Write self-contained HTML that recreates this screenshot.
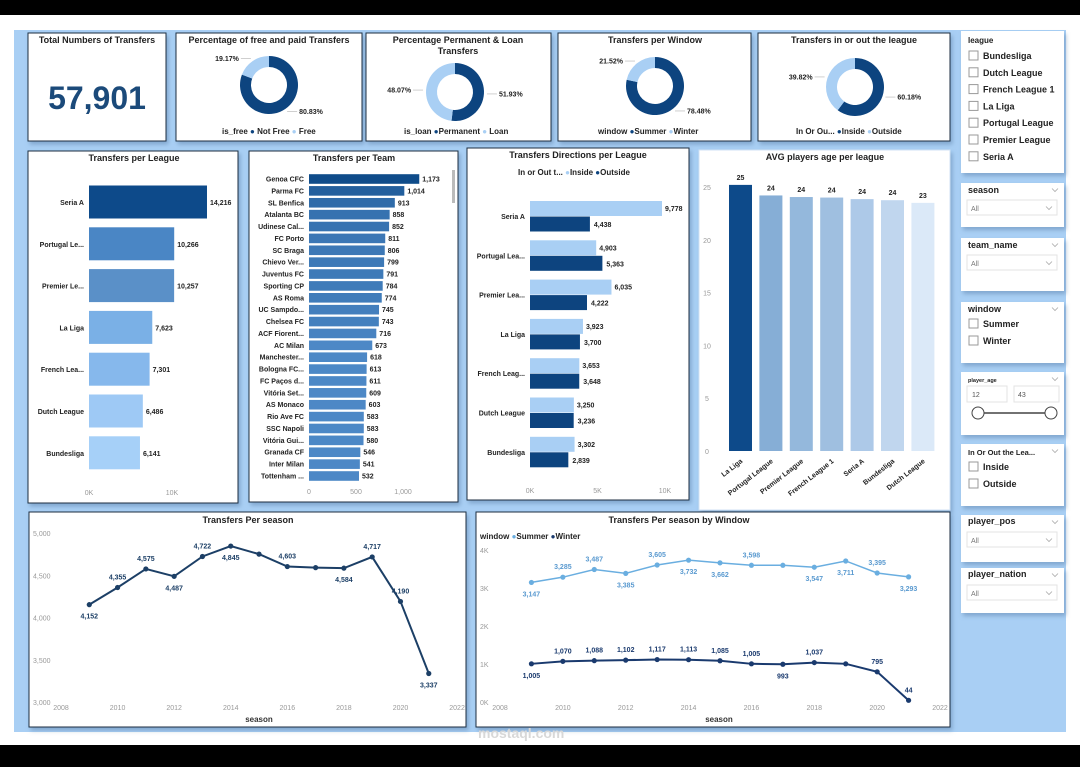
<!DOCTYPE html>
<html><head><meta charset="utf-8">
<style>
html,body{margin:0;padding:0;background:#fff;}
svg{display:block;font-family:"Liberation Sans",sans-serif;}
.t{font-weight:bold;font-size:9px;fill:#222;text-anchor:middle;}
.lb{font-size:7px;font-weight:bold;fill:#222;}
.ax{font-size:7px;fill:#999;}
.sl{font-size:9px;font-weight:bold;fill:#222;}
</style></head>
<body>
<svg id="dash" width="1080" height="767" viewBox="0 0 1080 767">
<defs><filter id="sh" x="-5%" y="-5%" width="115%" height="120%"><feDropShadow dx="2" dy="3" stdDeviation="2" flood-color="#5a7fa8" flood-opacity="0.5"/></filter></defs>
<rect x="0" y="0" width="1080" height="15" fill="#000"/>
<rect x="14" y="30" width="1052" height="702" fill="#a9cff4"/>
<rect x="0" y="745" width="1080" height="22" fill="#000"/>

<g filter="url(#sh)">
<rect x="28" y="33" width="138" height="108" fill="#fff" stroke="#1e2d40"/>
<rect x="176" y="33" width="186" height="108" fill="#fff" stroke="#1e2d40"/>
<rect x="366" y="33" width="185" height="108" fill="#fff" stroke="#1e2d40"/>
<rect x="558" y="33" width="193" height="108" fill="#fff" stroke="#1e2d40"/>
<rect x="758" y="33" width="192" height="108" fill="#fff" stroke="#1e2d40"/>
<rect x="28" y="151" width="210" height="352" fill="#fff" stroke="#1e2d40"/>
<rect x="249" y="151" width="209" height="351" fill="#fff" stroke="#1e2d40"/>
<rect x="467" y="148" width="222" height="352" fill="#fff" stroke="#1e2d40"/>
<rect x="699" y="150" width="251" height="360" fill="#fff" stroke="#d0e2f4"/>
<rect x="29" y="512" width="437" height="215" fill="#fff" stroke="#1e2d40"/>
<rect x="476" y="512" width="474" height="215" fill="#fff" stroke="#1e2d40"/>
<rect x="961" y="31" width="103" height="142" fill="#fff"/>
<rect x="961" y="183" width="103" height="44" fill="#fff"/>
<rect x="961" y="238" width="103" height="53" fill="#fff"/>
<rect x="961" y="302" width="103" height="61" fill="#fff"/>
<rect x="961" y="372" width="103" height="63" fill="#fff"/>
<rect x="961" y="444" width="103" height="62" fill="#fff"/>
<rect x="961" y="515" width="103" height="47" fill="#fff"/>
<rect x="961" y="568" width="103" height="45" fill="#fff"/>
</g>

<text class="t" x="97" y="43">Total Numbers of Transfers</text>
<text x="97" y="109" text-anchor="middle" font-size="32" font-weight="bold" fill="#1b4a7a">57,901</text>
<text class="t" x="269" y="43">Percentage of free and paid Transfers</text>
<text class="t" x="458" y="43">Percentage Permanent &amp; Loan</text>
<text class="t" x="458" y="54">Transfers</text>
<text class="t" x="655" y="43">Transfers per Window</text>
<text class="t" x="854" y="43">Transfers in or out the league</text>
<text class="t" x="134" y="161">Transfers per League</text>
<text class="t" x="354" y="161">Transfers per Team</text>
<text class="t" x="578" y="158">Transfers Directions per League</text>
<text class="t" x="825" y="160">AVG players age per league</text>
<text class="t" x="248" y="523">Transfers Per season</text>
<text class="t" x="679" y="523">Transfers Per season by Window</text>

<g id="legends" font-size="8" font-weight="bold" fill="#222">
<text x="222" y="134">is_free <tspan fill="#0d447f">●</tspan> Not Free <tspan fill="#a9cff4">●</tspan> Free</text>
<text x="404" y="134">is_loan <tspan fill="#0d447f">●</tspan>Permanent <tspan fill="#a9cff4">●</tspan> Loan</text>
<text x="598" y="134">window <tspan fill="#0d447f">●</tspan>Summer <tspan fill="#a9cff4">●</tspan>Winter</text>
<text x="796" y="134">In Or Ou... <tspan fill="#0d447f">●</tspan>Inside <tspan fill="#a9cff4">●</tspan>Outside</text>
<text x="518" y="175">In or Out t... <tspan fill="#a9cff4">●</tspan>Inside <tspan fill="#0d447f">●</tspan>Outside</text>
<text x="480" y="539">window <tspan fill="#6aaee0">●</tspan>Summer <tspan fill="#1a3a6e">●</tspan>Winter</text>
</g>
<g id="donuts"></g>
<g id="leagueChart"></g>
<g id="teamChart"></g>
<rect x="452" y="170" width="3" height="33" fill="#bbb"/>
<g id="dirChart"></g>
<g id="ageChart"></g>
<g id="seasonChart"></g>
<g id="windowChart"></g>

<g id="slicers">
<text x="968" y="43" font-size="8" font-weight="bold" fill="#222">league</text>
<text class="sl" x="968" y="193" font-size="8">season</text>
<rect x="967" y="200" width="90" height="15" fill="#fff" stroke="#e3e3e3"/>
<text x="971" y="211" font-size="7" fill="#777">All</text>
<text class="sl" x="968" y="248" font-size="8">team_name</text>
<rect x="967" y="255" width="90" height="15" fill="#fff" stroke="#e3e3e3"/>
<text x="971" y="266" font-size="7" fill="#777">All</text>
<text class="sl" x="968" y="312" font-size="8">window</text>
<text x="968" y="382" font-size="5.5" font-weight="bold" fill="#222">player_age</text>
<rect x="967" y="386" width="40" height="16" fill="#fff" stroke="#e3e3e3"/>
<rect x="1014" y="386" width="45" height="16" fill="#fff" stroke="#e3e3e3"/>
<text x="972" y="397" font-size="7" fill="#555">12</text>
<text x="1018" y="397" font-size="7" fill="#555">43</text>
<line x1="978" y1="413" x2="1051" y2="413" stroke="#444" stroke-width="1.5"/>
<circle cx="978" cy="413" r="6" fill="#fff" stroke="#444"/>
<circle cx="1051" cy="413" r="6" fill="#fff" stroke="#444"/>
<text x="968" y="455" font-size="7.5" font-weight="bold" fill="#222">In Or Out the Lea...</text>
<text class="sl" x="968" y="524" font-size="8">player_pos</text>
<rect x="967" y="532" width="90" height="15" fill="#fff" stroke="#e3e3e3"/>
<text x="971" y="543" font-size="7" fill="#777">All</text>
<text class="sl" x="968" y="577" font-size="8">player_nation</text>
<rect x="967" y="585" width="90" height="15" fill="#fff" stroke="#e3e3e3"/>
<text x="971" y="596" font-size="7" fill="#777">All</text>
</g>
<text x="478" y="738" font-size="14" fill="#d8d8d8" font-weight="bold">mostaql.com</text>
</svg>
<script>
const NS='http://www.w3.org/2000/svg';
const freeVals=[80.83,19.17];
const loanVals=[51.93,48.07];
const windowVals=[78.48,21.52];
const inoutVals=[60.18,39.82];
const leagueNames=['Seria A','Portugal Le...','Premier Le...','La Liga','French Lea...','Dutch League','Bundesliga'];
const leagueTotals=[14216,10266,10257,7623,7301,6486,6141];
const leagueTicks=[0,10000];
const leagueTickLabels=['0K','10K'];
const teamNames=['Genoa CFC','Parma FC','SL Benfica','Atalanta BC','Udinese Cal...','FC Porto','SC Braga','Chievo Ver...','Juventus FC','Sporting CP','AS Roma','UC Sampdo...','Chelsea FC','ACF Fiorent...','AC Milan','Manchester...','Bologna FC...','FC Paços d...','Vitória Set...','AS Monaco','Rio Ave FC','SSC Napoli','Vitória Gui...','Granada CF','Inter Milan','Tottenham ...'];
const teamTotals=[1173,1014,913,858,852,811,806,799,791,784,774,745,743,716,673,618,613,611,609,603,583,583,580,546,541,532];
const teamTicks=[0,500,1000];
const teamTickLabels=['0','500','1,000'];
const dirLeagues=['Seria A','Portugal Lea...','Premier Lea...','La Liga','French Leag...','Dutch League','Bundesliga'];
const dirInside=[9778,4903,6035,3923,3653,3250,3302];
const dirOutside=[4438,5363,4222,3700,3648,3236,2839];
const dirTicks=[0,5000,10000];
const dirTickLabels=['0K','5K','10K'];
const ageLeagues=['La Liga','Portugal League','Premier League','French League 1','Seria A','Bundesliga','Dutch League'];
const ageValues=[25.2,24.2,24.05,24.0,23.85,23.75,23.5];
const ageTicks=[0,5,10,15,20,25];
const seasons=[2009,2010,2011,2012,2013,2014,2015,2016,2017,2018,2019,2020,2021];
const seasonTotals=[4152,4355,4575,4487,4722,4845,4750,4603,4590,4584,4717,4190,3337];
const seasonLabelSide=['b','a','a','b','a','b','','a','','b','a','a','b'];
const seasonYTicks=[3000,3500,4000,4500,5000];
const yearTicks=[2008,2010,2012,2014,2016,2018,2020,2022];
const summerVals=[3147,3285,3487,3385,3605,3732,3662,3598,3598,3547,3711,3395,3293];
const summerLabelSide=['b','a','a','b','a','b','b','a','','b','b','a','b'];
const winterVals=[1005,1070,1088,1102,1117,1113,1085,1005,993,1037,1005,795,44];
const winterLabelSide=['b','a','a','a','a','a','a','a','b','a','','a','a'];
const windowYTicks=[0,1000,2000,3000,4000];
const windowYLabels=['0K','1K','2K','3K','4K'];

function mk(tag,attrs,parent){const e=document.createElementNS(NS,tag);for(const k in attrs)e.setAttribute(k,attrs[k]);parent.appendChild(e);return e;}
function fmt(v){return v.toLocaleString('en-US');}
function txt(parent,x,y,s,cls,anchor,name){const e=mk('text',{x:x,y:y,class:cls,'text-anchor':anchor||'start'},parent);e.textContent=s;


return e;}

// donuts
const dg=document.getElementById('donuts');
function donut(cx,cy,vals,name){
  const r1=29,r0=18,cols=['#0d447f','#a9cff4'];let a=0;const tot=vals.reduce((s,v)=>s+v,0);
  vals.forEach((v,i)=>{
    const a0=a,a1=a+v/tot*Math.PI*2;a=a1;
    const p=(r,t)=>[cx+r*Math.sin(t),cy-r*Math.cos(t)];
    const lg=(a1-a0)>Math.PI?1:0;
    const [x0,y0]=p(r1,a0),[x1,y1]=p(r1,a1),[x2,y2]=p(r0,a1),[x3,y3]=p(r0,a0);
    const path=mk('path',{d:`M${x0},${y0}A${r1},${r1} 0 ${lg} 1 ${x1},${y1}L${x2},${y2}A${r0},${r0} 0 ${lg} 0 ${x3},${y3}Z`,fill:cols[i]},dg);
    
    
    const mid=(a0+a1)/2;const [ex,ey]=p(r1+3,mid);
    const right=Math.sin(mid)>=0;
    const lx2=right?ex+10:ex-10;
    const ln=mk('path',{d:`M${ex},${ey}L${lx2},${ey}`,stroke:'#bbb','stroke-width':0.7,fill:'none'},dg);
    
    
    txt(dg,right?lx2+2:lx2-2,ey+2.5,v.toFixed(2)+'%','lb',right?'start':'end',name+'-label-'+i);
  });
}
donut(269,85,freeVals,'free-donut');
donut(455,92,loanVals,'loan-donut');
donut(655,86,windowVals,'window-donut');
donut(855,87,inoutVals,'inout-donut');

// league bars
const lg=document.getElementById('leagueChart');
const lx=v=>89+v*0.0083;
const lcols=['#0d4a8a','#4a86c5','#5a90c8','#7ab0e6','#86b8ec','#9ec9f5','#a6d0f8'];
leagueNames.forEach((n,i)=>{
  const cy=202+i*41.8;
  const r=mk('rect',{x:lx(0),y:cy-16.5,width:lx(leagueTotals[i])-lx(0),height:33,fill:lcols[i]},lg);
  
  
  txt(lg,84,cy+3,n,'lb','end','league-label-'+i);
  txt(lg,lx(leagueTotals[i])+3,cy+3,fmt(leagueTotals[i]),'lb','start','league-value-'+i);
});
leagueTicks.forEach((t,i)=>txt(lg,lx(t),495,leagueTickLabels[i],'ax','middle','league-tick-'+i));

// team bars
const tg=document.getElementById('teamChart');
const tx=v=>309+v*0.094;
teamNames.forEach((n,i)=>{
  const cy=179+i*11.88;
  const f=Math.min(1,(1173-teamTotals[i])/500);
  const c=`rgb(${Math.round(15+f*62)},${Math.round(76+f*60)},${Math.round(138+f*60)})`;
  const r=mk('rect',{x:tx(0),y:cy-4.8,width:tx(teamTotals[i])-tx(0),height:9.6,fill:c},tg);
  
  
  txt(tg,304,cy+2.5,n,'lb','end','team-label-'+i);
  txt(tg,tx(teamTotals[i])+3,cy+2.5,fmt(teamTotals[i]),'lb','start','team-value-'+i);
});
teamTicks.forEach((t,i)=>txt(tg,tx(t),494,teamTickLabels[i],'ax','middle','team-tick-'+i));

// directions
const dgc=document.getElementById('dirChart');
const dx=v=>530+v*0.0135;
dirLeagues.forEach((n,i)=>{
  const top=201+i*39.3;
  const a=mk('rect',{x:dx(0),y:top,width:dx(dirInside[i])-dx(0),height:15,fill:'#a9cff4'},dgc);
  
  
  const b=mk('rect',{x:dx(0),y:top+15.5,width:dx(dirOutside[i])-dx(0),height:15,fill:'#0d447f'},dgc);
  
  
  txt(dgc,525,top+18,n,'lb','end','dir-label-'+i);
  txt(dgc,dx(dirInside[i])+3,top+10,fmt(dirInside[i]),'lb','start','dir-inside-value-'+i);
  txt(dgc,dx(dirOutside[i])+4,top+26,fmt(dirOutside[i]),'lb','start','dir-outside-value-'+i);
});
dirTicks.forEach((t,i)=>txt(dgc,dx(t),493,dirTickLabels[i],'ax','middle','dir-tick-'+i));

// age
const ag=document.getElementById('ageChart');
const ay=v=>451-v*10.56;
const acols=['#0d4a8a','#86aed6','#94b8dc','#9fbfe0','#adc9e8','#c0d6ee','#dbe9f8'];
ageTicks.forEach((t,i)=>txt(ag,707,ay(t)+3,String(t),'ax','middle','age-tick-'+i));
ageLeagues.forEach((n,i)=>{
  const x=729+i*30.4;
  const r=mk('rect',{x:x,y:ay(ageValues[i]),width:23,height:ay(0)-ay(ageValues[i]),fill:acols[i]},ag);
  
  
  txt(ag,x+11.5,ay(ageValues[i])-5,String(Math.round(ageValues[i]-0.01)),'lb','middle','age-value-'+i);
  const l=txt(ag,x+14,462,n,'lb','end','age-label-'+i);
  l.setAttribute('transform',`rotate(-38 ${x+14} 462)`);
});

// line helper
function line(g,xs,ys,vals,col,sides,name,lcol,lw){
  const pts=seasons.map((s,i)=>[xs(s),ys(vals[i])]);
  const p=mk('polyline',{points:pts.map(q=>q.join(',')).join(' '),fill:'none',stroke:col,'stroke-width':lw},g);
  
  
  pts.forEach((q,i)=>{
    const c=mk('circle',{cx:q[0],cy:q[1],r:2.6,fill:col},g);
    
    
    if(sides[i]){const t=txt(g,q[0],sides[i]==='a'?q[1]-8:q[1]+14,fmt(vals[i]),'lb','middle',name+'-value-'+i);t.setAttribute('style','fill:'+lcol);}
  });
}
// season chart
const sg=document.getElementById('seasonChart');
const sx=y=>61+(y-2008)*28.29, sy=v=>533+(5000-v)*0.0845;
seasonYTicks.forEach((t,i)=>txt(sg,33,sy(t)+3,fmt(t),'ax','start','season-ytick-'+i));
yearTicks.forEach((t,i)=>txt(sg,sx(t),710,String(t),'ax','middle','season-xtick-'+i));
txt(sg,259,722,'season','lb','middle','season-axis-title').setAttribute('style','font-size:8px;fill:#333');
line(sg,sx,sy,seasonTotals,'#1c3f66',seasonLabelSide,'season','#1c3f66',2);

// window chart
const wg=document.getElementById('windowChart');
const wx=y=>500+(y-2008)*31.43, wy=v=>702-v*0.038;
windowYTicks.forEach((t,i)=>txt(wg,480,wy(t)+3,windowYLabels[i],'ax','start','window-ytick-'+i));
yearTicks.forEach((t,i)=>txt(wg,wx(t),710,String(t),'ax','middle','window-xtick-'+i));
txt(wg,719,722,'season','lb','middle','window-axis-title').setAttribute('style','font-size:8px;fill:#333');
line(wg,wx,wy,summerVals,'#6aaee0',summerLabelSide,'summer','#5a9ad0',1.5);
line(wg,wx,wy,winterVals,'#1a3a6e',winterLabelSide,'winter','#1a3a6e',2);

// slicer checkboxes
const slg=document.getElementById('slicers');
const leagueItems=['Bundesliga','Dutch League','French League 1','La Liga','Portugal League','Premier League','Seria A'];
function checks(items,y0,step,name){items.forEach((s,i)=>{
  const y=y0+i*step;
  const b=mk('rect',{x:969,y:y-5,width:9,height:9,fill:'#fff',stroke:'#999'},slg);
  
  
  txt(slg,983,y+3,s,'sl','start',name+'-option-'+i);
});}
checks(leagueItems,56,16.8,'league');
checks(['Summer','Winter'],324,17,'window');
checks(['Inside','Outside'],467,17,'inout');
[[1055,190],[1055,245],[1055,309],[1055,379],[1055,451],[1055,522],[1055,575],[1049,208],[1049,263],[1049,540],[1049,593]].forEach((p,i)=>{
  const c=mk('path',{d:`M${p[0]-3},${p[1]-1.5}l3,3l3,-3`,fill:'none',stroke:'#aaa','stroke-width':0.8},slg);
  
  
});
</script>
</body></html>
